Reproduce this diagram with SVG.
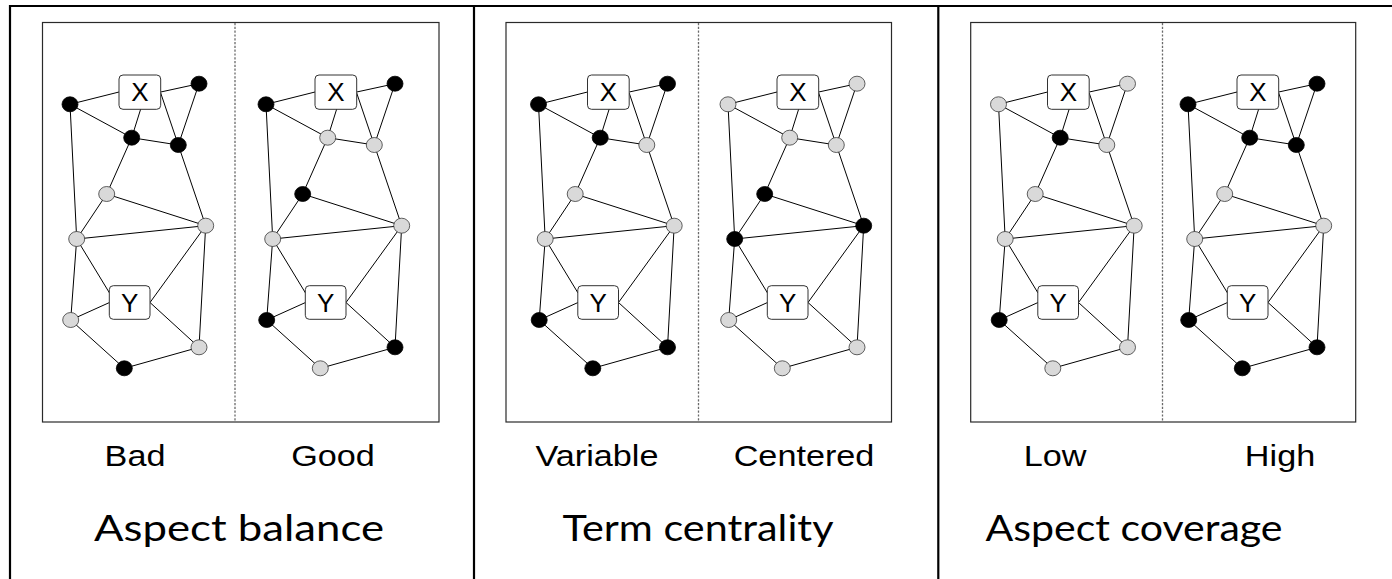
<svg xmlns="http://www.w3.org/2000/svg" xmlns:xlink="http://www.w3.org/1999/xlink" width="1392" height="579" viewBox="0 0 1392 579">
<style>
.frame{stroke:#000;stroke-width:2.2;fill:none}
.inner{fill:#fff;stroke:#2a2a2a;stroke-width:1.2}
.dot{stroke:#6a6a6a;stroke-width:1.3;stroke-dasharray:2.2 1.6;fill:none}
.k{fill:#000;stroke:#000;stroke-width:0.8}
.w{fill:#d9d9d9;stroke:#3a3a3a;stroke-width:0.8}
.box{fill:#fff;stroke:#333;stroke-width:1}
.bl{font-family:"Liberation Sans",Arial,sans-serif;font-size:26px;fill:#000;text-anchor:middle}
.lab{font-family:"Liberation Sans",Arial,sans-serif;font-size:30px;fill:#000;text-anchor:middle}
.ttl{font-family:Lato,"Open Sans",sans-serif;font-size:36px;fill:#000;text-anchor:middle}
</style>
<defs>
<g id="edgeset" stroke="#000" stroke-width="1" fill="none">
<line x1="70" y1="104.3" x2="119" y2="92"/>
<line x1="160.7" y1="92" x2="199" y2="83.7"/>
<line x1="70" y1="104.3" x2="131.7" y2="137.7"/>
<line x1="140.7" y1="109" x2="131.7" y2="137.7"/>
<line x1="160.7" y1="93" x2="178.3" y2="145"/>
<line x1="199" y1="83.7" x2="178.3" y2="145"/>
<line x1="131.7" y1="137.7" x2="178.3" y2="145"/>
<line x1="70" y1="104.3" x2="76.7" y2="239"/>
<line x1="131.7" y1="137.7" x2="106.7" y2="194"/>
<line x1="106.7" y1="194" x2="205.7" y2="225.7"/>
<line x1="178.3" y1="145" x2="205.7" y2="225.7"/>
<line x1="106.7" y1="194" x2="76.7" y2="239"/>
<line x1="76.7" y1="239" x2="205.7" y2="225.7"/>
<line x1="76.7" y1="239" x2="109.5" y2="293"/>
<line x1="76.7" y1="239" x2="70.7" y2="320"/>
<line x1="70.7" y1="320" x2="109.5" y2="302.5"/>
<line x1="205.7" y1="225.7" x2="150" y2="302.5"/>
<line x1="150" y1="302.5" x2="199" y2="347.3"/>
<line x1="205.7" y1="225.7" x2="199" y2="347.3"/>
<line x1="70.7" y1="320" x2="124.3" y2="368.3"/>
<line x1="124.3" y1="368.3" x2="199" y2="347.3"/>
</g>
</defs>

<g id="frames">
<line class="frame" x1="9" y1="6" x2="1392" y2="6"/>
<line class="frame" x1="10" y1="5" x2="10" y2="579"/>
<line class="frame" x1="474" y1="6" x2="474" y2="579"/>
<line class="frame" x1="938.3" y1="6" x2="938.3" y2="579"/>
<rect class="inner" x="42.5" y="22.5" width="396.5" height="399.5"/>
<rect class="inner" x="506" y="22.5" width="385.5" height="399.5"/>
<rect class="inner" x="970.7" y="22.5" width="385" height="399.5"/>
<line class="dot" x1="235" y1="23" x2="235" y2="422"/>
<line class="dot" x1="698.5" y1="23" x2="698.5" y2="422"/>
<line class="dot" x1="1162.5" y1="23" x2="1162.5" y2="422"/>
</g>

<g id="connectors">
<use xlink:href="#edgeset" href="#edgeset"/>
<use xlink:href="#edgeset" href="#edgeset" transform="translate(196,0)"/>
<use xlink:href="#edgeset" href="#edgeset" transform="translate(468.5,0)"/>
<use xlink:href="#edgeset" href="#edgeset" transform="translate(658,0)"/>
<use xlink:href="#edgeset" href="#edgeset" transform="translate(928.5,0)"/>
<use xlink:href="#edgeset" href="#edgeset" transform="translate(1118,0)"/>
</g>

<g id="graph-bad">
<g id="bad-X"><rect class="box" x="119" y="75" width="41.7" height="34.3" rx="4"/><text class="bl" x="140" y="101.3">X</text></g>
<g id="bad-Y"><rect class="box" x="109.3" y="285.7" width="40.7" height="33.6" rx="4"/><text class="bl" x="129.7" y="311.8">Y</text></g>
<g id="bad-A"><ellipse class="k" cx="70" cy="104.3" rx="8" ry="7.5"/></g>
<g id="bad-B"><ellipse class="k" cx="199" cy="83.7" rx="8" ry="7.5"/></g>
<g id="bad-C"><ellipse class="k" cx="131.7" cy="137.7" rx="8" ry="7.5"/></g>
<g id="bad-D"><ellipse class="k" cx="178.3" cy="145" rx="8" ry="7.5"/></g>
<g id="bad-E"><ellipse class="w" cx="106.7" cy="194" rx="8" ry="7.5"/></g>
<g id="bad-F"><ellipse class="w" cx="205.7" cy="225.7" rx="8" ry="7.5"/></g>
<g id="bad-G"><ellipse class="w" cx="76.7" cy="239" rx="8" ry="7.5"/></g>
<g id="bad-H"><ellipse class="w" cx="70.7" cy="320" rx="8" ry="7.5"/></g>
<g id="bad-I"><ellipse class="w" cx="199" cy="347.3" rx="8" ry="7.5"/></g>
<g id="bad-J"><ellipse class="k" cx="124.3" cy="368.3" rx="8" ry="7.5"/></g>
</g>

<g id="graph-good" transform="translate(196,0)">
<g id="good-X"><rect class="box" x="119" y="75" width="41.7" height="34.3" rx="4"/><text class="bl" x="140" y="101.3">X</text></g>
<g id="good-Y"><rect class="box" x="109.3" y="285.7" width="40.7" height="33.6" rx="4"/><text class="bl" x="129.7" y="311.8">Y</text></g>
<g id="good-A"><ellipse class="k" cx="70" cy="104.3" rx="8" ry="7.5"/></g>
<g id="good-B"><ellipse class="k" cx="199" cy="83.7" rx="8" ry="7.5"/></g>
<g id="good-C"><ellipse class="w" cx="131.7" cy="137.7" rx="8" ry="7.5"/></g>
<g id="good-D"><ellipse class="w" cx="178.3" cy="145" rx="8" ry="7.5"/></g>
<g id="good-E"><ellipse class="k" cx="106.7" cy="194" rx="8" ry="7.5"/></g>
<g id="good-F"><ellipse class="w" cx="205.7" cy="225.7" rx="8" ry="7.5"/></g>
<g id="good-G"><ellipse class="w" cx="76.7" cy="239" rx="8" ry="7.5"/></g>
<g id="good-H"><ellipse class="k" cx="70.7" cy="320" rx="8" ry="7.5"/></g>
<g id="good-I"><ellipse class="k" cx="199" cy="347.3" rx="8" ry="7.5"/></g>
<g id="good-J"><ellipse class="w" cx="124.3" cy="368.3" rx="8" ry="7.5"/></g>
</g>

<g id="graph-variable" transform="translate(468.5,0)">
<g id="variable-X"><rect class="box" x="119" y="75" width="41.7" height="34.3" rx="4"/><text class="bl" x="140" y="101.3">X</text></g>
<g id="variable-Y"><rect class="box" x="109.3" y="285.7" width="40.7" height="33.6" rx="4"/><text class="bl" x="129.7" y="311.8">Y</text></g>
<g id="variable-A"><ellipse class="k" cx="70" cy="104.3" rx="8" ry="7.5"/></g>
<g id="variable-B"><ellipse class="k" cx="199" cy="83.7" rx="8" ry="7.5"/></g>
<g id="variable-C"><ellipse class="k" cx="131.7" cy="137.7" rx="8" ry="7.5"/></g>
<g id="variable-D"><ellipse class="w" cx="178.3" cy="145" rx="8" ry="7.5"/></g>
<g id="variable-E"><ellipse class="w" cx="106.7" cy="194" rx="8" ry="7.5"/></g>
<g id="variable-F"><ellipse class="w" cx="205.7" cy="225.7" rx="8" ry="7.5"/></g>
<g id="variable-G"><ellipse class="w" cx="76.7" cy="239" rx="8" ry="7.5"/></g>
<g id="variable-H"><ellipse class="k" cx="70.7" cy="320" rx="8" ry="7.5"/></g>
<g id="variable-I"><ellipse class="k" cx="199" cy="347.3" rx="8" ry="7.5"/></g>
<g id="variable-J"><ellipse class="k" cx="124.3" cy="368.3" rx="8" ry="7.5"/></g>
</g>

<g id="graph-centered" transform="translate(658,0)">
<g id="centered-X"><rect class="box" x="119" y="75" width="41.7" height="34.3" rx="4"/><text class="bl" x="140" y="101.3">X</text></g>
<g id="centered-Y"><rect class="box" x="109.3" y="285.7" width="40.7" height="33.6" rx="4"/><text class="bl" x="129.7" y="311.8">Y</text></g>
<g id="centered-A"><ellipse class="w" cx="70" cy="104.3" rx="8" ry="7.5"/></g>
<g id="centered-B"><ellipse class="w" cx="199" cy="83.7" rx="8" ry="7.5"/></g>
<g id="centered-C"><ellipse class="w" cx="131.7" cy="137.7" rx="8" ry="7.5"/></g>
<g id="centered-D"><ellipse class="w" cx="178.3" cy="145" rx="8" ry="7.5"/></g>
<g id="centered-E"><ellipse class="k" cx="106.7" cy="194" rx="8" ry="7.5"/></g>
<g id="centered-F"><ellipse class="k" cx="205.7" cy="225.7" rx="8" ry="7.5"/></g>
<g id="centered-G"><ellipse class="k" cx="76.7" cy="239" rx="8" ry="7.5"/></g>
<g id="centered-H"><ellipse class="w" cx="70.7" cy="320" rx="8" ry="7.5"/></g>
<g id="centered-I"><ellipse class="w" cx="199" cy="347.3" rx="8" ry="7.5"/></g>
<g id="centered-J"><ellipse class="w" cx="124.3" cy="368.3" rx="8" ry="7.5"/></g>
</g>

<g id="graph-low" transform="translate(928.5,0)">
<g id="low-X"><rect class="box" x="119" y="75" width="41.7" height="34.3" rx="4"/><text class="bl" x="140" y="101.3">X</text></g>
<g id="low-Y"><rect class="box" x="109.3" y="285.7" width="40.7" height="33.6" rx="4"/><text class="bl" x="129.7" y="311.8">Y</text></g>
<g id="low-A"><ellipse class="w" cx="70" cy="104.3" rx="8" ry="7.5"/></g>
<g id="low-B"><ellipse class="w" cx="199" cy="83.7" rx="8" ry="7.5"/></g>
<g id="low-C"><ellipse class="k" cx="131.7" cy="137.7" rx="8" ry="7.5"/></g>
<g id="low-D"><ellipse class="w" cx="178.3" cy="145" rx="8" ry="7.5"/></g>
<g id="low-E"><ellipse class="w" cx="106.7" cy="194" rx="8" ry="7.5"/></g>
<g id="low-F"><ellipse class="w" cx="205.7" cy="225.7" rx="8" ry="7.5"/></g>
<g id="low-G"><ellipse class="w" cx="76.7" cy="239" rx="8" ry="7.5"/></g>
<g id="low-H"><ellipse class="k" cx="70.7" cy="320" rx="8" ry="7.5"/></g>
<g id="low-I"><ellipse class="w" cx="199" cy="347.3" rx="8" ry="7.5"/></g>
<g id="low-J"><ellipse class="w" cx="124.3" cy="368.3" rx="8" ry="7.5"/></g>
</g>

<g id="graph-high" transform="translate(1118,0)">
<g id="high-X"><rect class="box" x="119" y="75" width="41.7" height="34.3" rx="4"/><text class="bl" x="140" y="101.3">X</text></g>
<g id="high-Y"><rect class="box" x="109.3" y="285.7" width="40.7" height="33.6" rx="4"/><text class="bl" x="129.7" y="311.8">Y</text></g>
<g id="high-A"><ellipse class="k" cx="70" cy="104.3" rx="8" ry="7.5"/></g>
<g id="high-B"><ellipse class="k" cx="199" cy="83.7" rx="8" ry="7.5"/></g>
<g id="high-C"><ellipse class="k" cx="131.7" cy="137.7" rx="8" ry="7.5"/></g>
<g id="high-D"><ellipse class="k" cx="178.3" cy="145" rx="8" ry="7.5"/></g>
<g id="high-E"><ellipse class="w" cx="106.7" cy="194" rx="8" ry="7.5"/></g>
<g id="high-F"><ellipse class="w" cx="205.7" cy="225.7" rx="8" ry="7.5"/></g>
<g id="high-G"><ellipse class="w" cx="76.7" cy="239" rx="8" ry="7.5"/></g>
<g id="high-H"><ellipse class="k" cx="70.7" cy="320" rx="8" ry="7.5"/></g>
<g id="high-I"><ellipse class="k" cx="199" cy="347.3" rx="8" ry="7.5"/></g>
<g id="high-J"><ellipse class="k" cx="124.3" cy="368.3" rx="8" ry="7.5"/></g>
</g>

<g id="labels">
<text class="lab" transform="translate(135,466) scale(1.14,1)">Bad</text>
<text class="lab" transform="translate(333,466) scale(1.14,1)">Good</text>
<text class="lab" transform="translate(597,466) scale(1.14,1)">Variable</text>
<text class="lab" transform="translate(804,466) scale(1.14,1)">Centered</text>
<text class="lab" transform="translate(1055,466) scale(1.14,1)">Low</text>
<text class="lab" transform="translate(1280,466) scale(1.14,1)">High</text>
<text class="ttl" x="239" y="541" textLength="290" lengthAdjust="spacingAndGlyphs">Aspect balance</text>
<text class="ttl" x="698" y="541" textLength="271" lengthAdjust="spacingAndGlyphs">Term centrality</text>
<text class="ttl" x="1134" y="541" textLength="297" lengthAdjust="spacingAndGlyphs">Aspect coverage</text>
</g>
</svg>
